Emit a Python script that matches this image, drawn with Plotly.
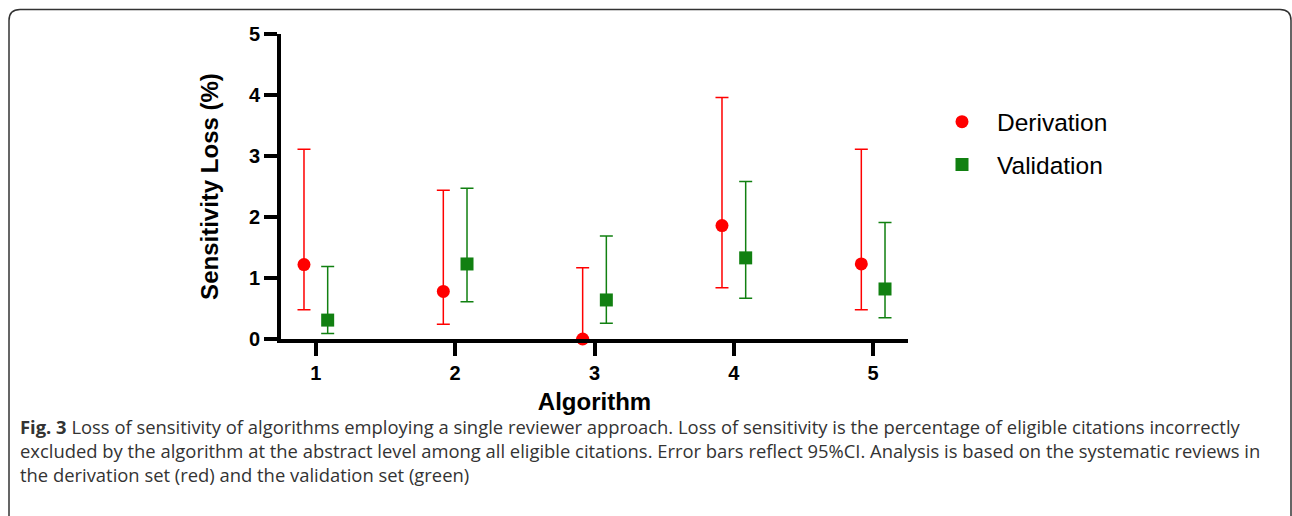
import plotly.graph_objects as go

# ---- data ----
algorithms = [1, 2, 3, 4, 5]
derivation = [1.22, 0.78, 0.0, 1.86, 1.23]
derivation_lo = [0.48, 0.24, 0.0, 0.84, 0.48]
derivation_hi = [3.11, 2.44, 1.17, 3.96, 3.11]
validation = [0.31, 1.23, 0.64, 1.33, 0.82]
validation_lo = [0.09, 0.61, 0.26, 0.67, 0.35]
validation_hi = [1.19, 2.47, 1.69, 2.58, 1.91]
y_ticks = [0, 1, 2, 3, 4, 5]
caption_lines = [
    "<b>Fig. 3</b> Loss of sensitivity of algorithms employing a single reviewer approach. Loss of sensitivity is the percentage of eligible citations incorrectly",
    "excluded by the algorithm at the abstract level among all eligible citations. Error bars reflect 95%CI. Analysis is based on the systematic reviews in",
    "the derivation set (red) and the validation set (green)",
]

# ---- layout geometry ----
W, H = 1292, 516
L, R, T, B = 281, 384, 33.5, 176.5
PW, PH = W - L - R, H - T - B
OFF = 0.085
RED = "#ff0000"
GREEN = "#118011"


def px2x(px):
    return (px - L) / PW


def py2y(py):
    return (H - B - py) / PH


fig = go.Figure()
fig.add_trace(go.Scatter(
    x=[a - OFF for a in algorithms], y=derivation, mode="markers", name="Derivation",
    legendgroup="d", cliponaxis=False,
    marker=dict(symbol="circle", size=13, color=RED),
    error_y=dict(type="data", symmetric=False,
                 array=[h - v for h, v in zip(derivation_hi, derivation)],
                 arrayminus=[v - l for v, l in zip(derivation, derivation_lo)],
                 color=RED, thickness=1.5, width=6.5),
))
fig.add_trace(go.Scatter(
    x=[a + OFF for a in algorithms], y=validation, mode="markers", name="Validation",
    legendgroup="v", cliponaxis=False,
    marker=dict(symbol="square", size=13, color=GREEN),
    error_y=dict(type="data", symmetric=False,
                 array=[h - v for h, v in zip(validation_hi, validation)],
                 arrayminus=[v - l for v, l in zip(validation, validation_lo)],
                 color=GREEN, thickness=1.5, width=6.5),
))

bold20 = dict(family="Liberation Sans, Arial, sans-serif", size=20, color="black", weight="bold")
bold24 = dict(family="Liberation Sans, Arial, sans-serif", size=24, color="black", weight="bold")

fig.update_xaxes(
    range=[0.75, 5.25], tickvals=algorithms, ticktext=[str(a) for a in algorithms],
    showgrid=False, zeroline=False, showline=True, linecolor="black", linewidth=4,
    ticks="outside", ticklen=13, tickwidth=4, tickcolor="black", tickfont=bold20,
    title=dict(text="Algorithm", font=bold24, standoff=11),
)
fig.update_yaxes(
    range=[0, 5], tickvals=y_ticks, ticktext=[str(t) for t in y_ticks],
    showgrid=False, zeroline=False, showline=True, linecolor="black", linewidth=4,
    ticks="outside", ticklen=13, tickwidth=4, tickcolor="black", tickfont=bold20,
    title=dict(text="Sensitivity Loss (%)", font=bold24, standoff=24),
)

annotations = []
for i, line in enumerate(caption_lines):
    annotations.append(dict(
        xref="paper", yref="paper", x=px2x(18), y=py2y(427 + 24.2 * i),
        xanchor="left", yanchor="middle", showarrow=False, align="left",
        text=line, font=dict(family="Open Sans", size=18.4, color="#333333"),
    ))

# rounded frame around the figure
x0, x1, y0 = px2x(9), px2x(1291), py2y(9)
rx, ry = 11 / PW, 11 / PH
ybot = py2y(530)
path = (f"M {x0} {ybot} L {x0} {y0 - ry} Q {x0} {y0} {x0 + rx} {y0} "
        f"L {x1 - rx} {y0} Q {x1} {y0} {x1} {y0 - ry} L {x1} {ybot}")

fig.update_layout(
    width=W, height=H, margin=dict(l=L, r=R, t=T, b=B, autoexpand=False),
    plot_bgcolor="white", paper_bgcolor="white",
    showlegend=True,
    legend=dict(x=px2x(927), y=py2y(99), xanchor="left", yanchor="top",
                font=dict(family="Liberation Sans, Arial, sans-serif", size=24.5, color="black"),
                itemwidth=60, tracegroupgap=8, bgcolor="rgba(0,0,0,0)"),
    annotations=annotations,
    shapes=[dict(type="path", xref="paper", yref="paper", path=path,
                 line=dict(color="#333333", width=1.5))],
)

fig.write_html("out.html", config={"displayModeBar": False},
               post_script="document.body.style.margin='0';")
